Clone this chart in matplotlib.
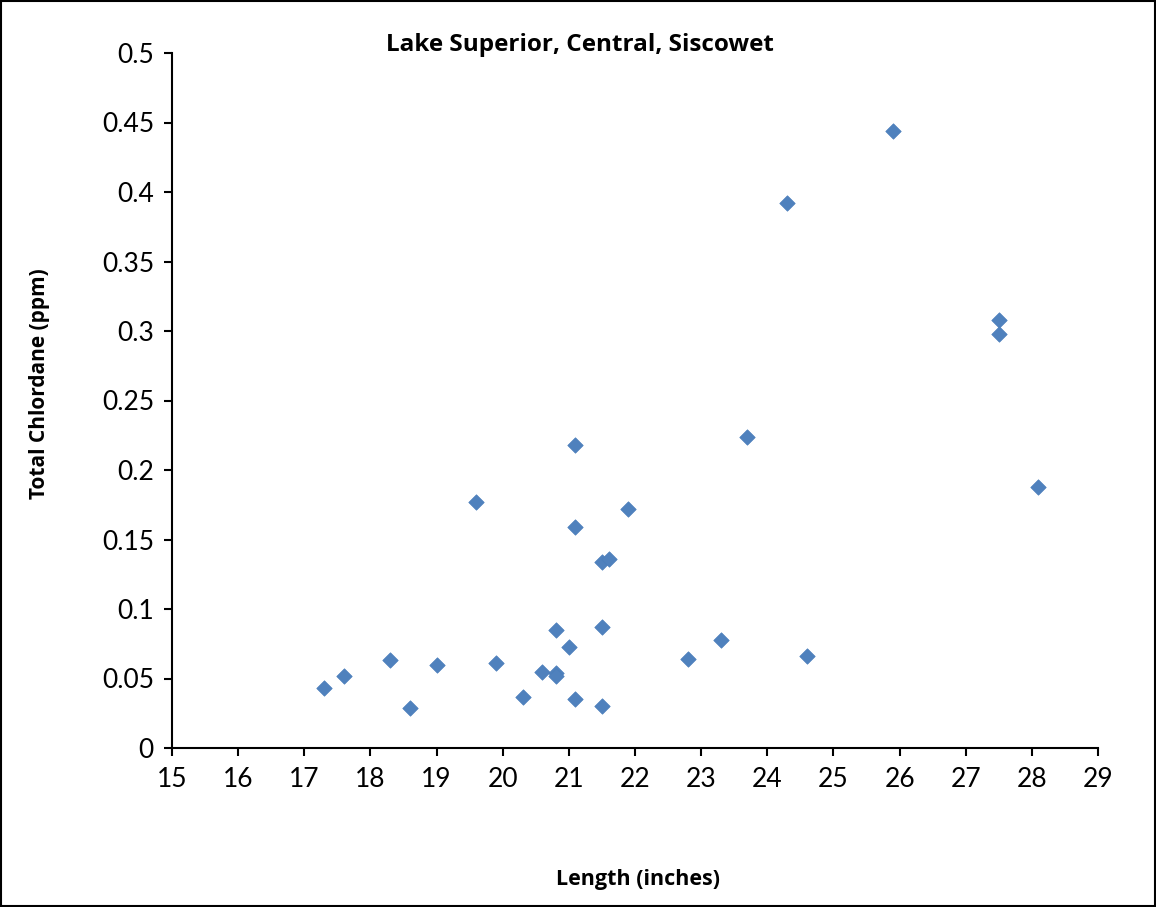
import matplotlib
matplotlib.use("Agg")
import matplotlib.pyplot as plt
from matplotlib.patches import Rectangle

plt.rcParams['font.family'] = ['Lato', 'DejaVu Sans']

length = [17.3, 17.6, 18.3, 18.6, 19.0, 19.6, 19.9, 20.3, 20.6, 20.8, 20.8, 20.8,
          21.0, 21.1, 21.1, 21.1, 21.5, 21.5, 21.5, 21.6, 21.9, 22.8, 23.3, 23.7,
          24.3, 24.6, 25.9, 27.5, 27.5, 28.1]
chlordane = [0.043, 0.052, 0.063, 0.029, 0.060, 0.177, 0.061, 0.037, 0.055, 0.085, 0.054, 0.052,
             0.073, 0.218, 0.159, 0.035, 0.134, 0.087, 0.030, 0.136, 0.172, 0.064, 0.078, 0.224,
             0.392, 0.066, 0.444, 0.308, 0.298, 0.188]
x_ticks = list(range(15, 30))
y_ticks = [0, 0.05, 0.1, 0.15, 0.2, 0.25, 0.3, 0.35, 0.4, 0.45, 0.5]
y_tick_labels = ['0', '0.05', '0.1', '0.15', '0.2', '0.25', '0.3', '0.35', '0.4', '0.45', '0.5']

W, H = 1156, 907
fig = plt.figure(figsize=(W/100, H/100), dpi=100)
ax = fig.add_axes([172/W, (H-748)/H, (1098-172)/W, (748-53)/H])

ax.scatter(length, chlordane, marker='D', s=62, color='#4F81BD', edgecolors='#4A7EBB',
           linewidths=0.5, zorder=3)

ax.set_xlim(15, 29)
ax.set_ylim(0, 0.5)
ax.set_xticks(x_ticks)
ax.set_xticklabels([str(t) for t in x_ticks])
ax.set_yticks(y_ticks)
ax.set_yticklabels(y_tick_labels)
for s in ['top', 'right']:
    ax.spines[s].set_visible(False)
for s in ['left', 'bottom']:
    ax.spines[s].set_linewidth(1.5)
    ax.spines[s].set_color('black')
ax.tick_params(direction='out', length=6, width=1.5, labelsize=19)
ax.tick_params(axis='x', pad=8)
ax.tick_params(axis='y', pad=7)

bold = ['Open Sans', 'DejaVu Sans']
fig.text(580/W, 1-45/H, 'Lake Superior, Central, Siscowet', ha='center', va='center',
         fontsize=17.5, fontweight='bold', family=bold)
fig.text(638/W, 1-880/H, 'Length (inches)', ha='center', va='center',
         fontsize=15.5, fontweight='bold', family=bold)
fig.text(40/W, 1-384/H, 'Total Chlordane (ppm)', ha='center', va='center',
         fontsize=15, fontweight='bold', rotation=90, family=bold)

fig.patches.append(Rectangle((1/W, 1/H), (W-2)/W, (H-2)/H, transform=fig.transFigure,
                             fill=False, edgecolor='black', linewidth=1.5))

fig.savefig('out.png', dpi=100)
